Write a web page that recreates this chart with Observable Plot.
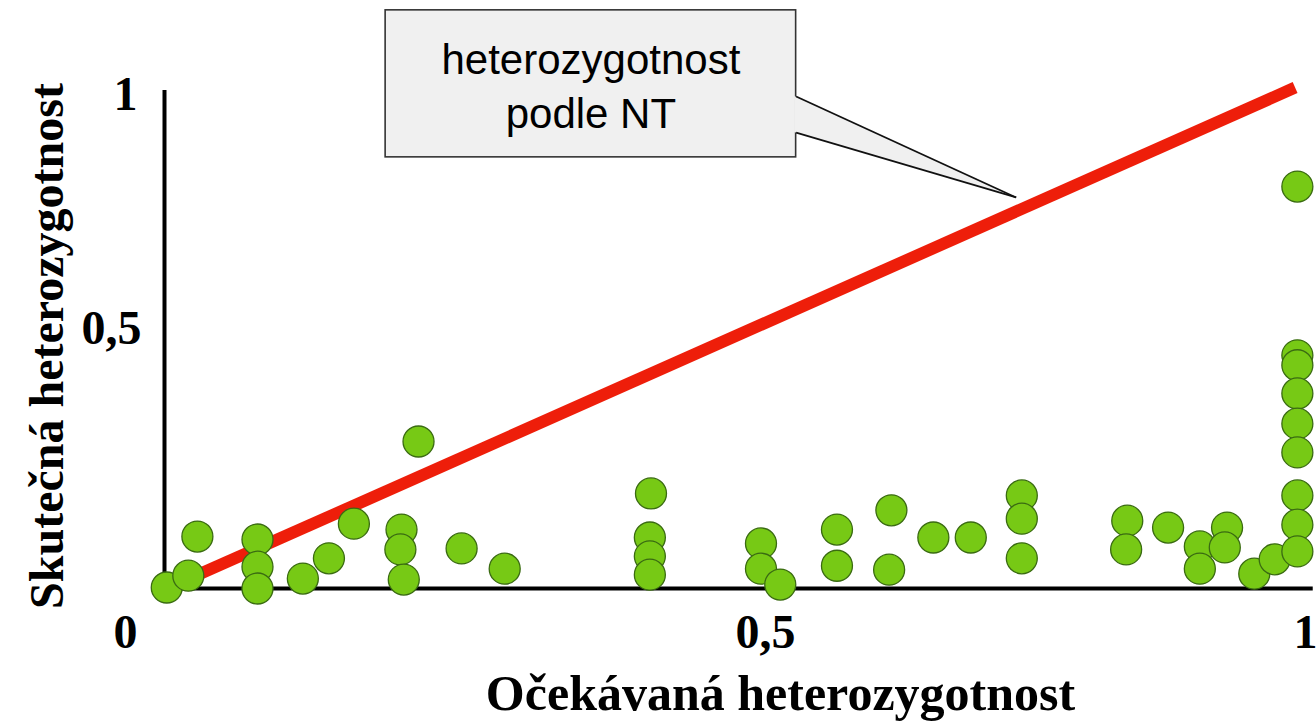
<!DOCTYPE html>
<html><head><meta charset="utf-8">
<script src="https://cdn.jsdelivr.net/npm/d3@7"></script>
<script src="https://cdn.jsdelivr.net/npm/@observablehq/plot@0.6"></script>
<style>
html,body{margin:0;padding:0;background:#fff;}
#chart{width:1316px;height:724px;overflow:hidden;}
</style></head><body><div id="chart"></div>
<script>
// Expected (x) vs observed (y) heterozygosity per locus
const expected = [0.002,0.021,0.029,0.082,0.082,0.082,0.122,0.145,0.167,0.209,0.208,0.211,0.224,0.262,0.300,
  0.429,0.428,0.428,0.428,0.526,0.526,0.543,0.593,0.593,0.641,0.639,0.678,0.711,0.756,0.756,0.756,
  0.849,0.848,0.885,0.913,0.913,0.937,0.935,0.961,0.979,
  0.999,0.999,0.999,0.999,0.999,0.999,0.999,0.999,0.999];
const observed = [0.002,0.026,0.105,0.099,0.044,0.0,0.020,0.061,0.131,0.119,0.079,0.018,0.297,0.081,0.040,
  0.192,0.103,0.065,0.028,0.091,0.040,0.008,0.119,0.046,0.158,0.038,0.103,0.103,0.188,0.141,0.061,
  0.137,0.079,0.123,0.085,0.040,0.123,0.083,0.030,0.059,
  0.812,0.471,0.451,0.394,0.333,0.275,0.188,0.129,0.075];
// Hardy–Weinberg expectation line (observed = expected)
const ntX = [0.022, 0.997];
const ntY = [0.020, 1.012];
// Tick labels
const xTickA = [0.5], xTickALabel = ["0,5"];
const xTickB = [1],   xTickBLabel = ["1"];
const yTickA = [1],   yTickALabel = ["1"];
const yTickB = [0.5], yTickBLabel = ["0,5"];
const originLabel = ["0"];
const xTitle = ["Očekávaná heterozygotnost"];
const yTitle = ["Skutečná heterozygotnost"];
// Callout annotation (data coordinates)
const calloutText = ["heterozygotnost\npodle NT"];
const calloutBox = {x1: 0.195, x2: 0.557, y1: 0.871, y2: 1.168};
const calloutBase = {x: 0.557, yLow: 0.921, yHigh: 0.994};
const calloutTip = {x: 0.751, y: 0.790};

const points = expected.map((e, i) => ({e, o: observed[i]}));
const nt = ntX.map((x, i) => ({x, y: ntY[i]}));
const pointer = [
  {x: calloutBase.x, y1: calloutBase.yLow, y2: calloutBase.yHigh},
  {x: calloutTip.x, y1: calloutTip.y, y2: calloutTip.y}
];
const pointerEdges = [calloutBase.yLow, calloutBase.yHigh].map(y => ({x1: calloutBase.x, y1: y, x2: calloutTip.x, y2: calloutTip.y}));
const serif = "'Liberation Serif','Times New Roman',serif";
const sans = "'Liberation Sans',Arial,sans-serif";
const tick = {fontFamily: serif, fontWeight: "bold", fontSize: 48, textAnchor: "middle", lineAnchor: "middle", fill: "#000"};

const chart = Plot.plot({
  width: 1316, height: 724,
  marginLeft: 164, marginRight: 18, marginTop: 93, marginBottom: 136,
  x: {domain: [0, 1], axis: null},
  y: {domain: [0, 1], axis: null},
  style: {background: "#fff", overflow: "visible"},
  marks: [
    // callout pointer + box
    Plot.rect([calloutBox], {x1: "x1", x2: "x2", y1: "y1", y2: "y2", fill: "#f0f0f0", stroke: "#333", strokeWidth: 1.6}),
    Plot.areaY(pointer, {x: "x", y1: "y1", y2: "y2", fill: "#f0f0f0", dx: -1.5}),
    Plot.link(pointerEdges, {x1: "x1", y1: "y1", x2: "x2", y2: "y2", stroke: "#111", strokeWidth: 1.8}),
    Plot.text(calloutText, {x: () => (calloutBox.x1 + calloutBox.x2) / 2, y: () => (calloutBox.y1 + calloutBox.y2) / 2, text: d => d,
      fontFamily: sans, fontSize: 42, lineHeight: 1.27, fill: "#000"}),
    // axes lines
    Plot.ruleX([0], {y1: () => 0, y2: () => 1.006, stroke: "#000", strokeWidth: 4}),
    Plot.ruleY([0], {x1: () => -0.002, x2: () => 1.013, stroke: "#000", strokeWidth: 4}),
    // NT line
    Plot.line(nt, {x: "x", y: "y", stroke: "#ee1e0a", strokeWidth: 12, strokeLinecap: "butt"}),
    // data points
    Plot.dot(points, {x: "e", y: "o", r: 15.5, fill: "#77c915", stroke: "#3a6b12", strokeWidth: 1.3}),
    // tick labels
    Plot.text(xTickA, {x: d => d, frameAnchor: "bottom", text: (d, i) => xTickALabel[i], dx: 34, dy: 44, ...tick}),
    Plot.text(xTickB, {x: d => d, frameAnchor: "bottom", text: (d, i) => xTickBLabel[i], dx: 7, dy: 44, ...tick}),
    Plot.text(yTickA, {y: d => d, frameAnchor: "left", text: (d, i) => yTickALabel[i], dx: -39, dy: 1, ...tick}),
    Plot.text(yTickB, {y: d => d, frameAnchor: "left", text: (d, i) => yTickBLabel[i], dx: -53, dy: -12, ...tick}),
    Plot.text(originLabel, {frameAnchor: "bottom-left", text: d => d, dx: -39, dy: 44, ...tick}),
    // axis titles
    Plot.text(xTitle, {frameAnchor: "bottom", text: d => d, dx: 49, dy: 105, fontFamily: serif, fontWeight: "bold", fontSize: 50, textAnchor: "middle", lineAnchor: "middle", fill: "#000"}),
    Plot.text(yTitle, {frameAnchor: "left", text: d => d, rotate: -90, dx: -117, dy: 5, fontFamily: serif, fontWeight: "bold", fontSize: 48, textAnchor: "middle", lineAnchor: "middle", fill: "#000"})
  ]
});
document.getElementById("chart").append(chart);
</script></body></html>
